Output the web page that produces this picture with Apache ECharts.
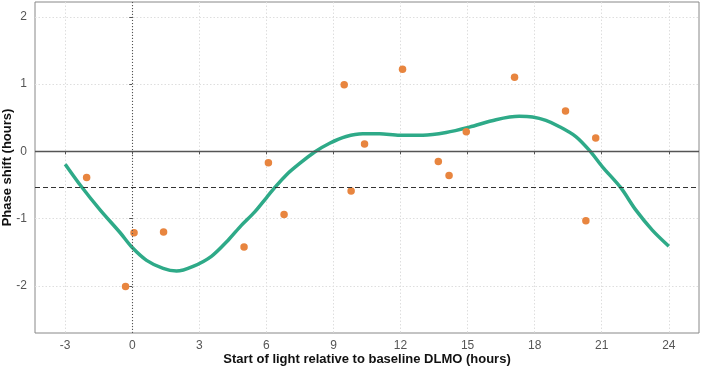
<!DOCTYPE html>
<html>
<head>
<meta charset="utf-8">
<script src="https://cdn.jsdelivr.net/npm/echarts@6/dist/echarts.min.js"></script>
<style>html,body{margin:0;padding:0;background:#fff}#c{width:702px;height:369px}</style>
</head>
<body>
<div id="c"></div>
<script>
// Observed points: [start of light (h), phase shift (h)]
var pointX = [-2.04, -0.30, 0.08, 1.40, 5.00, 6.09, 6.79, 9.48, 9.79, 10.39, 12.09, 13.69, 14.17, 14.94, 17.10, 19.38, 20.73, 20.29];
var pointY = [-0.39, -2.01, -1.21, -1.20, -1.42, -0.17, -0.94, 0.99, -0.59, 0.11, 1.22, -0.15, -0.36, 0.29, 1.10, 0.60, 0.20, -1.03];
// Fitted curve
var curveX = [-3, -2.26, -1.44, -0.54, 0, 0.64, 1.38, 1.98, 2.72, 3.54, 4.29, 4.88, 5.48, 6.0, 6.37, 6.89, 7.49, 8.16, 8.83, 9.57, 10.31, 11.06, 11.96, 13.0, 14.04, 15.08, 16.27, 17.31, 17.9, 18.5, 19.09, 19.84, 20.46, 21.03, 21.85, 22.52, 23.26, 24.0];
var curveY = [-0.19, -0.53, -0.87, -1.21, -1.43, -1.62, -1.74, -1.78, -1.71, -1.56, -1.32, -1.10, -0.90, -0.69, -0.54, -0.35, -0.18, -0.01, 0.12, 0.22, 0.26, 0.26, 0.24, 0.24, 0.28, 0.36, 0.47, 0.52, 0.51, 0.46, 0.37, 0.22, 0.01, -0.23, -0.54, -0.87, -1.17, -1.41];
var meanShift = -0.54;
var xTicks = [-3, 0, 3, 6, 9, 12, 15, 18, 21, 24];
var yTicks = [-2, -1, 0, 1, 2];
var xTitle = 'Start of light relative to baseline DLMO (hours)';
var yTitle = 'Phase shift (hours)';

var chart = echarts.init(document.getElementById('c'), null, {renderer: 'canvas'});
var font = 'Liberation Sans, Arial, sans-serif';
var gridStyle = {show: true, lineStyle: {color: '#dedede', type: [1.5, 2], width: 1}};
chart.setOption({
  animation: false,
  backgroundColor: '#ffffff',
  grid: {left: 35, right: 3, top: 2, bottom: 36, show: true, borderColor: '#888', borderWidth: 1,
         containLabel: false, outerBoundsMode: 'none'},
  xAxis: {
    type: 'value', min: -4.35, max: 25.35,
    axisLine: {show: false},
    axisTick: {show: true, length: 3, lineStyle: {color: '#555'}, customValues: xTicks},
    axisLabel: {customValues: xTicks, color: '#555', fontSize: 12, fontFamily: font, margin: 7},
    splitLine: gridStyle,
    name: xTitle, nameLocation: 'middle', nameGap: 20, nameMoveOverlap: false,
    nameTextStyle: {fontWeight: 'bold', fontSize: 13, color: '#111', fontFamily: font}
  },
  yAxis: {
    type: 'value', min: -2.70, max: 2.22,
    axisLine: {show: false},
    axisTick: {show: true, length: 3, lineStyle: {color: '#555'}, customValues: yTicks},
    axisLabel: {customValues: yTicks, color: '#555', fontSize: 12, fontFamily: font, margin: 8},
    splitLine: gridStyle,
    name: yTitle, nameLocation: 'middle', nameGap: 21, nameRotate: 90, nameMoveOverlap: false,
    nameTextStyle: {fontWeight: 'bold', fontSize: 13, color: '#111', fontFamily: font}
  },
  series: [
    {
      type: 'line', data: [], z: 2, silent: true,
      markLine: {
        silent: true, symbol: 'none', animation: false, label: {show: false},
        data: [
          {yAxis: 0, lineStyle: {color: '#555', type: 'solid', width: 1.3}},
          {yAxis: meanShift, lineStyle: {color: '#333', type: [5, 3], width: 1.2}},
          {xAxis: 0, lineStyle: {color: '#555', type: [1, 2], width: 1.1}}
        ]
      }
    },
    {
      type: 'line', z: 3,
      data: curveX.map(function (x, i) { return [x, curveY[i]]; }),
      smooth: 0.3, showSymbol: false, symbol: 'none',
      lineStyle: {color: '#2eaa88', width: 3.5}
    },
    {
      type: 'scatter', z: 4,
      data: pointX.map(function (x, i) { return [x, pointY[i]]; }),
      symbolSize: 7.5,
      itemStyle: {color: '#e8853f', opacity: 1}
    }
  ]
});
</script>
</body>
</html>
